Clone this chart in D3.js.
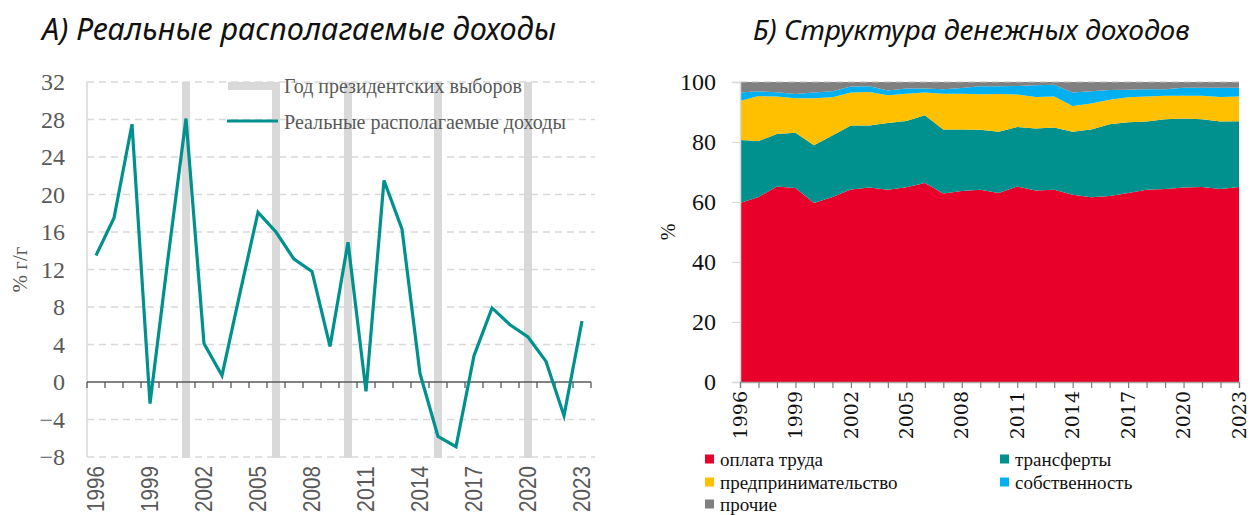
<!DOCTYPE html>
<html>
<head>
<meta charset="utf-8">
<script src="https://cdn.jsdelivr.net/npm/d3@7/dist/d3.min.js"></script>
<style>
  html, body { margin: 0; padding: 0; background: #fff; }
  svg { display: block; }
</style>
</head>
<body>
<svg id="chart" width="1251" height="515"></svg>
<script>
// ---------- DATA ----------
const years = d3.range(1996, 2024);
const incomeGrowth = [13.5, 17.5, 27.5, -2.3, 13.2, 28.1, 4.1, 0.7, 9.5, 18.1, 16.0, 13.1, 11.8, 3.8,
  14.9, -1.0, 21.5, 16.3, 0.9, -5.8, -6.9, 2.8, 7.9, 6.1, 4.8, 2.2, -3.6, 6.5];
const electionYears = [2001, 2006, 2010, 2015, 2020];
const leftYTicks = [-8, -4, 0, 4, 8, 12, 16, 20, 24, 28, 32];
const xLabelYears = [1996, 1999, 2002, 2005, 2008, 2011, 2014, 2017, 2020, 2023];

const labor = [59.7, 61.7, 65.2, 64.7, 59.7, 61.7, 64.2, 64.8, 64.1, 64.9, 66.3, 62.8, 63.7, 64.1,
  63.0, 65.2, 63.8, 64.1, 62.4, 61.6, 62.0, 63.0, 64.1, 64.3, 64.8, 65.0, 64.3, 65.0];
const transfers = [21.0, 18.6, 17.5, 18.4, 19.2, 20.5, 21.3, 20.7, 22.2, 22.1, 22.6, 21.4, 20.5, 20.0,
  20.4, 19.8, 20.7, 20.7, 21.0, 22.6, 23.9, 23.6, 22.7, 23.3, 23.0, 22.6, 22.5, 21.9];
const business = [13.0, 15.0, 12.5, 11.5, 15.7, 12.7, 11.0, 11.2, 9.3, 9.1, 7.6, 11.9, 11.9, 11.8,
  12.6, 10.8, 10.5, 10.4, 8.6, 8.6, 8.2, 8.3, 8.4, 7.8, 7.6, 7.8, 8.2, 8.3];
const property = [2.8, 1.6, 1.4, 1.4, 1.9, 2.0, 2.0, 1.9, 1.6, 1.7, 1.3, 1.5, 1.9, 2.7,
  2.6, 2.9, 3.9, 3.9, 4.5, 4.1, 3.2, 2.5, 2.4, 2.2, 2.7, 2.7, 3.1, 2.9];
const other = [3.5, 3.1, 3.4, 4.0, 3.5, 3.1, 1.5, 1.4, 2.8, 2.2, 2.2, 2.4, 2.0, 1.4,
  1.4, 1.3, 1.1, 0.9, 3.5, 3.1, 2.7, 2.6, 2.4, 2.4, 1.9, 1.9, 1.9, 1.9];
const seriesKeys = ["оплата труда", "трансферты", "предпринимательство", "собственность", "прочие"];
const seriesColors = ["#E8002A", "#00918E", "#FFC000", "#00B0F0", "#808080"];
const rightYTicks = [0, 20, 40, 60, 80, 100];

const titleA = "А) Реальные располагаемые доходы";
const titleB = "Б) Структура денежных доходов";
const legendA = ["Год президентских выборов", "Реальные располагаемые доходы"];

// ---------- SETUP ----------
const svg = d3.select("#chart");
const SERIF = "'Liberation Serif', 'Times New Roman', serif";
const GRID = "#d9d9d9";
const TXT = "#595959";
const teal = "#00918E";

function fitText(sel, targetW) {
  const w = sel.node().getComputedTextLength();
  const fs = parseFloat(sel.attr("font-size"));
  sel.attr("font-size", (fs * targetW / w).toFixed(2));
}

// Titles
const tA = svg.append("text").attr("x", 42).attr("y", 40)
  .attr("font-family", "'Noto Sans', 'Open Sans', sans-serif").attr("font-style", "italic")
  .attr("font-size", 28).attr("fill", "#111").text(titleA);
fitText(tA, 514);
const tB = svg.append("text").attr("x", 753).attr("y", 40)
  .attr("font-family", "'Noto Sans', 'Open Sans', sans-serif").attr("font-style", "italic")
  .attr("font-size", 28).attr("fill", "#111").text(titleB);
fitText(tB, 437);

// ---------- LEFT CHART ----------
const L = { left: 87, right: 591, top: 82, bottom: 457 };
const xL = d3.scaleBand().domain(years).range([L.left, L.right]).padding(0);
const yL = d3.scaleLinear().domain([-8, 32]).range([L.bottom, L.top]);
const cx = d => xL(d) + xL.bandwidth() / 2;

const gL = svg.append("g");

// horizontal dashed grid
gL.append("g").selectAll("line").data(leftYTicks.filter(v => v !== 0)).join("line")
  .attr("x1", L.left).attr("x2", L.right + 4)
  .attr("y1", d => yL(d)).attr("y2", d => yL(d))
  .attr("stroke", GRID).attr("stroke-width", 1.5).attr("stroke-dasharray", "7,5");

// left vertical axis line
gL.append("line").attr("x1", L.left).attr("x2", L.left).attr("y1", L.top).attr("y2", L.bottom)
  .attr("stroke", GRID).attr("stroke-width", 1.5);

// election bars
gL.append("g").selectAll("rect").data(electionYears).join("rect")
  .attr("x", d => cx(d) - 4).attr("width", 8)
  .attr("y", yL(32)).attr("height", yL(-8) - yL(32) + 1)
  .attr("fill", "#d9d9d9");

// y axis labels
const yAxisL = d3.axisLeft(yL).tickValues(leftYTicks).tickSize(0).tickPadding(0).tickFormat(d3.format("d"));
const yAxL = gL.append("g").attr("transform", "translate(65,0)").call(yAxisL);
yAxL.select(".domain").remove();
yAxL.selectAll("text").attr("font-family", SERIF).attr("font-size", 24).attr("fill", TXT);

// zero axis with ticks at band boundaries
const bounds = years.map(d => xL(d)).concat([L.right]);
gL.append("line").attr("x1", L.left).attr("x2", L.right).attr("y1", yL(0)).attr("y2", yL(0))
  .attr("stroke", "#595959").attr("stroke-width", 1.5);
gL.append("g").selectAll("line").data(bounds).join("line")
  .attr("x1", d => d).attr("x2", d => d).attr("y1", yL(0)).attr("y2", yL(0) + 6)
  .attr("stroke", "#595959").attr("stroke-width", 1.3);

// x labels (narrow look via textLength)
gL.append("g").selectAll("text").data(xLabelYears).join("text")
  .attr("transform", d => `translate(${cx(d)},466) rotate(-90)`)
  .attr("text-anchor", "end").attr("dy", "0.35em")
  .attr("font-family", "'Liberation Sans', Arial, sans-serif")
  .attr("font-size", 23).attr("fill", TXT)
  .attr("textLength", 46).attr("lengthAdjust", "spacingAndGlyphs")
  .text(d => d);

// line
const line = d3.line().x((d, i) => cx(years[i])).y(d => yL(d));
gL.append("path").datum(incomeGrowth).attr("d", line)
  .attr("fill", "none").attr("stroke", teal).attr("stroke-width", 3.2)
  .attr("stroke-linejoin", "miter");

// y title
svg.append("text").attr("transform", `translate(20,${(L.top + L.bottom) / 2}) rotate(-90)`)
  .attr("text-anchor", "middle").attr("dy", "0.35em")
  .attr("font-family", SERIF).attr("font-size", 21).attr("fill", TXT).text("% г/г");

// legend left
svg.append("rect").attr("x", 228).attr("y", 82).attr("width", 50).attr("height", 8).attr("fill", "#d9d9d9");
svg.append("line").attr("x1", 227).attr("x2", 278).attr("y1", 121).attr("y2", 121)
  .attr("stroke", teal).attr("stroke-width", 3.2);
const lg1 = svg.append("text").attr("x", 284).attr("y", 86).attr("dy", "0.35em")
  .attr("font-family", SERIF).attr("font-size", 17).attr("fill", TXT).text(legendA[0]);
fitText(lg1, 238);
const lg2 = svg.append("text").attr("x", 284).attr("y", 122).attr("dy", "0.35em")
  .attr("font-family", SERIF).attr("font-size", 17).attr("fill", TXT).text(legendA[1]);
fitText(lg2, 282);

// ---------- RIGHT CHART ----------
const R = { left: 740, right: 1239, top: 82, bottom: 382 };
const xR = d3.scalePoint().domain(years).range([R.left, R.right]);
const yR = d3.scaleLinear().domain([0, 100]).range([R.bottom, R.top]);
const gR = svg.append("g");

const table = years.map((y, i) => ({
  year: y,
  [seriesKeys[0]]: labor[i], [seriesKeys[1]]: transfers[i], [seriesKeys[2]]: business[i],
  [seriesKeys[3]]: property[i], [seriesKeys[4]]: other[i]
}));
const stacked = d3.stack().keys(seriesKeys).offset(d3.stackOffsetExpand)(table);
const area = d3.area().x(d => xR(d.data.year)).y0(d => yR(d[0] * 100)).y1(d => yR(d[1] * 100));

gR.append("g").selectAll("path").data(stacked).join("path")
  .attr("d", area).attr("fill", (d, i) => seriesColors[i]);

// gridline at 100 (dashed) over top
gR.append("line").attr("x1", R.left).attr("x2", R.right).attr("y1", yR(100)).attr("y2", yR(100))
  .attr("stroke", "#bfbfbf").attr("stroke-width", 1.2).attr("stroke-dasharray", "7,5");

// y axis
const yAxisR = d3.axisLeft(yR).tickValues(rightYTicks).tickSize(8).tickPadding(16).tickFormat(d3.format("d"));
const yAxR = gR.append("g").attr("transform", `translate(${R.left},0)`).call(yAxisR);
yAxR.select(".domain").attr("stroke", GRID).attr("stroke-width", 1.5);
yAxR.selectAll(".tick line").attr("stroke", GRID).attr("stroke-width", 1.2);
yAxR.selectAll("text").attr("font-family", SERIF).attr("font-size", 24).attr("fill", "#111");

// x axis
const xAxisR = d3.axisBottom(xR).tickValues(years).tickSize(6).tickFormat("");
const xAxR = gR.append("g").attr("transform", `translate(0,${R.bottom})`).call(xAxisR);
xAxR.select(".domain").attr("stroke", "#a6a6a6").attr("stroke-width", 1.3);
xAxR.selectAll(".tick line").attr("stroke", "#7f7f7f").attr("stroke-width", 1.2);

gR.append("g").selectAll("text").data(xLabelYears).join("text")
  .attr("transform", d => `translate(${xR(d)},391) rotate(-90)`)
  .attr("text-anchor", "end").attr("dy", "0.35em")
  .attr("font-family", "'DejaVu Serif', serif")
  .attr("font-size", 19).attr("fill", "#111").text(d => d);

// y title
svg.append("text").attr("transform", `translate(668,${(R.top + R.bottom) / 2}) rotate(-90)`)
  .attr("text-anchor", "middle").attr("dy", "0.35em")
  .attr("font-family", SERIF).attr("font-size", 20).attr("fill", "#111").text("%");

// legend right
const legPos = [[705, 459], [1000, 459], [705, 482], [1000, 482], [705, 504]];
const lgR = svg.append("g").selectAll("g").data(seriesKeys).join("g")
  .attr("transform", (d, i) => `translate(${legPos[i][0]},${legPos[i][1]})`);
lgR.append("rect").attr("x", 0).attr("y", -4.5).attr("width", 9).attr("height", 9)
  .attr("fill", (d, i) => seriesColors[i]);
lgR.append("text").attr("x", 15).attr("dy", "0.35em")
  .attr("font-family", SERIF).attr("font-size", 19).attr("fill", "#111").text(d => d);
</script>
</body>
</html>
